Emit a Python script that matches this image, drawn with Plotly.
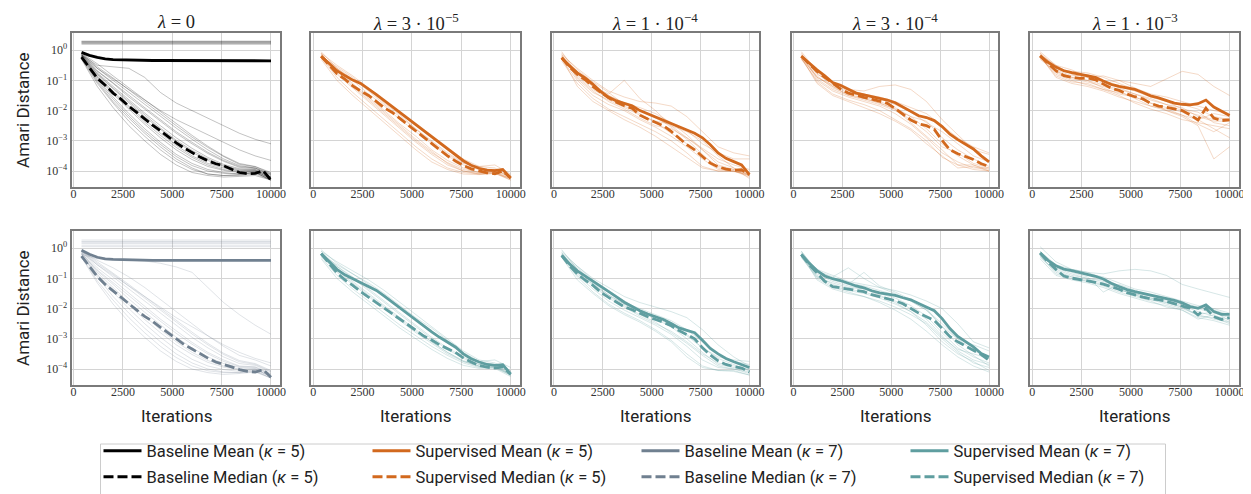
import numpy as np
import plotly.graph_objects as go

# ---------------- data (log10 of Amari distance) ----------------
X_FINE = [400, 800, 1200, 1600, 2000, 2400, 2800, 3200, 3600, 4000, 4400, 4800, 5200,
          5600, 6000, 6400, 6800, 7200, 7600, 8000, 8400, 8800, 9200, 9600, 10000]
X_COARSE = [400, 1200, 2000, 2800, 3600, 4400, 5200, 6000, 6800, 7600, 8400, 9200, 10000]

LAMBDA_TITLES = ["<i>λ</i> = 0", "<i>λ</i> = 3 · 10<sup>−5</sup>", "<i>λ</i> = 1 · 10<sup>−4</sup>",
                 "<i>λ</i> = 3 · 10<sup>−4</sup>", "<i>λ</i> = 1 · 10<sup>−3</sup>"]
Y_TICK_VALS = [1e-4, 1e-3, 1e-2, 1e-1, 1]
Y_TICK_TEXT = ["10<sup>−4</sup>", "10<sup>−3</sup>", "10<sup>−2</sup>", "10<sup>−1</sup>", "10<sup>0</sup>"]
X_TICK_VALS = [0, 2500, 5000, 7500, 10000]
X_TICK_TEXT = ["0", "2500", "5000", "7500", "10000"]

# ---- Baseline kappa = 5 (lambda = 0) ----
b5_mean = [-0.07, -0.17, -0.24, -0.29, -0.31, -0.32, -0.33, -0.33, -0.34, -0.34, -0.34, -0.34, -0.34,
           -0.34, -0.34, -0.34, -0.34, -0.34, -0.34, -0.34, -0.34, -0.34, -0.34, -0.34, -0.35]
b5_median = [-0.23, -0.6, -0.93, -1.16, -1.42, -1.62, -1.86, -2.06, -2.28, -2.48, -2.67, -2.88, -3.07,
             -3.24, -3.39, -3.54, -3.66, -3.76, -3.83, -3.94, -4.05, -4.09, -4.08, -3.99, -4.3]
b5_runs = [
    [-0.3, -1.2, -1.9, -2.5, -3.0, -3.45, -3.8, -4.05, -4.15, -4.2, -4.18, -4.15, -4.3],
    [-0.25, -1.05, -1.7, -2.25, -2.75, -3.2, -3.6, -3.9, -4.1, -4.15, -4.12, -4.05, -4.3],
    [-0.2, -0.95, -1.55, -2.1, -2.6, -3.05, -3.45, -3.75, -3.95, -4.05, -4.1, -4.05, -4.3],
    [-0.22, -0.9, -1.45, -1.95, -2.45, -2.9, -3.3, -3.62, -3.85, -3.98, -4.05, -4.02, -4.25],
    [-0.18, -0.85, -1.35, -1.85, -2.3, -2.75, -3.15, -3.5, -3.75, -3.9, -4.0, -4.0, -4.25],
    [-0.2, -0.8, -1.28, -1.75, -2.2, -2.62, -3.02, -3.38, -3.65, -3.85, -3.98, -3.98, -4.2],
    [-0.15, -0.75, -1.2, -1.65, -2.08, -2.5, -2.9, -3.25, -3.55, -3.78, -3.92, -3.95, -4.2],
    [-0.15, -0.7, -1.1, -1.55, -1.95, -2.35, -2.75, -3.1, -3.42, -3.68, -3.88, -3.92, -4.15],
    [-0.12, -0.6, -1.0, -1.4, -1.8, -2.2, -2.58, -2.95, -3.3, -3.6, -3.82, -3.9, -4.1],
    [-0.1, -0.45, -0.85, -1.25, -1.65, -2.05, -2.45, -2.82, -3.18, -3.5, -3.75, -3.85, -4.05],
    [-0.15, -0.5, -0.55, -0.6, -0.9, -1.4, -1.75, -2.0, -2.25, -2.5, -2.75, -2.95, -3.1],
    [-0.15, -0.6, -0.95, -1.3, -1.65, -2.0, -2.3, -2.55, -2.8, -3.05, -3.3, -3.5, -3.65],
    [-0.28, -1.1, -1.75, -2.35, -2.85, -3.3, -3.68, -3.95, -4.1, -4.15, -4.15, -4.1, -4.3],
    [-0.22, -1.0, -1.62, -2.18, -2.68, -3.12, -3.52, -3.82, -4.0, -4.08, -4.1, -4.05, -4.28],
    [-0.18, -0.88, -1.4, -1.9, -2.38, -2.82, -3.22, -3.55, -3.8, -3.95, -4.02, -4.0, -4.25],
    [-0.16, -0.78, -1.25, -1.7, -2.15, -2.58, -2.98, -3.32, -3.6, -3.82, -3.95, -3.96, -4.2],
    [-0.14, -0.68, -1.08, -1.5, -1.9, -2.3, -2.7, -3.05, -3.38, -3.65, -3.85, -3.9, -4.12],
    [-0.1, -0.55, -0.92, -1.32, -1.72, -2.12, -2.5, -2.88, -3.22, -3.52, -3.78, -3.86, -4.08],
]
b5_stuck = [
    [0.30, 0.30, 0.30, 0.30, 0.30, 0.30, 0.30, 0.30, 0.30, 0.30, 0.30, 0.30, 0.30],
    [0.27, 0.27, 0.27, 0.27, 0.27, 0.27, 0.27, 0.27, 0.27, 0.27, 0.27, 0.27, 0.27],
    [0.25, 0.25, 0.25, 0.25, 0.25, 0.25, 0.25, 0.25, 0.25, 0.25, 0.25, 0.25, 0.25],
    [0.22, 0.22, 0.22, 0.22, 0.22, 0.22, 0.22, 0.22, 0.22, 0.22, 0.22, 0.22, 0.22],
    [0.28, 0.28, 0.28, 0.28, 0.28, 0.28, 0.28, 0.28, 0.28, 0.28, 0.28, 0.28, 0.28],
    [0.20, 0.20, 0.20, 0.20, 0.20, 0.20, 0.20, 0.20, 0.20, 0.20, 0.20, 0.20, 0.20],
]

# ---- Baseline kappa = 7 (lambda = 0) ----
b7_mean = [-0.07, -0.2, -0.3, -0.35, -0.37, -0.38, -0.39, -0.39, -0.4, -0.4, -0.4, -0.4, -0.4,
           -0.4, -0.4, -0.4, -0.4, -0.4, -0.4, -0.4, -0.4, -0.4, -0.4, -0.4, -0.4]
b7_median = [-0.26, -0.62, -0.94, -1.2, -1.42, -1.63, -1.85, -2.05, -2.26, -2.42, -2.62, -2.81, -3.0,
             -3.19, -3.34, -3.5, -3.64, -3.77, -3.84, -3.93, -4.02, -4.08, -4.1, -4.02, -4.27]
b7_runs = [
    [-0.3, -1.15, -1.85, -2.45, -2.95, -3.4, -3.75, -4.0, -4.12, -4.18, -4.15, -4.1, -4.3],
    [-0.2, -0.95, -1.6, -2.15, -2.65, -3.1, -3.5, -3.8, -4.0, -4.1, -4.12, -4.05, -4.3],
    [-0.25, -0.9, -1.45, -2.0, -2.5, -2.95, -3.35, -3.68, -3.9, -4.02, -4.08, -4.03, -4.25],
    [-0.15, -0.8, -1.3, -1.8, -2.25, -2.7, -3.1, -3.45, -3.72, -3.9, -4.0, -4.0, -4.25],
    [-0.18, -0.75, -1.2, -1.68, -2.12, -2.55, -2.95, -3.3, -3.6, -3.82, -3.95, -3.97, -4.2],
    [-0.12, -0.65, -1.05, -1.5, -1.92, -2.35, -2.75, -3.12, -3.45, -3.7, -3.9, -3.93, -4.15],
    [-0.1, -0.55, -0.95, -1.35, -1.75, -2.15, -2.55, -2.95, -3.3, -3.6, -3.82, -3.88, -4.1],
    [-0.08, -0.45, -0.8, -1.2, -1.6, -2.0, -2.4, -2.78, -3.15, -3.48, -3.72, -3.82, -4.05],
    [-0.2, -0.35, -0.38, -0.4, -0.42, -0.5, -0.62, -0.8, -1.3, -1.8, -2.2, -2.55, -2.85],
    [-0.15, -0.55, -0.9, -1.25, -1.6, -1.95, -2.3, -2.6, -2.9, -3.2, -3.45, -3.65, -3.8],
    [-0.27, -1.08, -1.72, -2.3, -2.8, -3.25, -3.62, -3.9, -4.06, -4.12, -4.12, -4.08, -4.3],
    [-0.2, -0.86, -1.38, -1.88, -2.36, -2.8, -3.2, -3.52, -3.78, -3.94, -4.02, -4.0, -4.25],
    [-0.16, -0.72, -1.14, -1.58, -2.0, -2.42, -2.82, -3.18, -3.5, -3.75, -3.92, -3.94, -4.18],
    [-0.1, -0.5, -0.86, -1.26, -1.66, -2.06, -2.46, -2.84, -3.2, -3.52, -3.76, -3.85, -4.08],
    [-0.12, -0.4, -0.65, -0.95, -1.3, -1.7, -2.1, -2.5, -2.9, -3.25, -3.55, -3.7, -3.9],
]
b7_stuck = [
    [0.27, 0.27, 0.27, 0.27, 0.27, 0.27, 0.27, 0.27, 0.27, 0.27, 0.27, 0.27, 0.27],
    [0.22, 0.22, 0.22, 0.22, 0.22, 0.22, 0.22, 0.22, 0.22, 0.22, 0.22, 0.22, 0.22],
    [0.16, 0.16, 0.16, 0.16, 0.16, 0.16, 0.16, 0.16, 0.16, 0.16, 0.16, 0.16, 0.16],
    [0.10, 0.10, 0.10, 0.10, 0.10, 0.10, 0.10, 0.10, 0.10, 0.10, 0.10, 0.10, 0.10],
    [0.05, 0.05, 0.05, 0.05, 0.05, 0.05, 0.05, 0.05, 0.05, 0.05, 0.05, 0.05, 0.05],
    [0.20, 0.20, 0.20, 0.20, 0.20, 0.20, 0.20, 0.20, 0.20, 0.20, 0.20, 0.20, 0.20],
]

# ---- Supervised kappa = 5 ----
s5_l3e5_mean = [-0.2, -0.45, -0.68, -0.84, -0.99, -1.1, -1.28, -1.47, -1.67, -1.87, -2.07, -2.26, -2.45,
                -2.65, -2.86, -3.06, -3.28, -3.48, -3.66, -3.81, -3.91, -3.97, -3.99, -3.95, -4.23]
s5_l3e5_median = [-0.2, -0.5, -0.78, -0.96, -1.18, -1.35, -1.5, -1.7, -1.91, -2.06, -2.27, -2.47, -2.68,
                  -2.88, -3.08, -3.3, -3.5, -3.67, -3.82, -3.93, -4.0, -4.06, -4.09, -4.0, -4.23]
s5_l3e5_runs = [
    [-0.05, -0.6, -1.0, -1.45, -1.85, -2.3, -2.7, -3.1, -3.5, -3.8, -3.95, -3.95, -4.2],
    [-0.15, -0.65, -1.1, -1.55, -2.0, -2.45, -2.85, -3.3, -3.65, -3.9, -4.05, -4.05, -4.25],
    [-0.25, -0.9, -1.4, -1.85, -2.3, -2.75, -3.2, -3.6, -3.9, -4.05, -4.1, -4.05, -4.3],
    [-0.3, -1.0, -1.5, -1.95, -2.4, -2.85, -3.3, -3.7, -3.95, -4.1, -4.12, -4.08, -4.3],
    [-0.1, -0.5, -0.85, -1.25, -1.65, -2.05, -2.45, -2.85, -3.25, -3.6, -3.85, -3.9, -4.15],
    [-0.2, -0.55, -0.9, -1.3, -1.75, -2.15, -2.6, -3.0, -3.4, -3.72, -3.92, -3.95, -4.2],
    [-0.12, -0.7, -1.15, -1.6, -2.05, -2.5, -2.95, -3.35, -3.75, -4.0, -4.1, -4.08, -4.25],
    [-0.25, -0.8, -1.25, -1.7, -2.15, -2.6, -3.05, -3.45, -3.8, -4.0, -4.08, -4.02, -4.25],
    [-0.18, -0.6, -0.95, -1.35, -1.8, -2.2, -2.62, -3.05, -3.45, -3.75, -3.85, -3.8, -4.1],
    [-0.1, -0.75, -1.2, -1.65, -2.1, -2.55, -3.0, -3.4, -3.72, -3.95, -4.05, -4.0, -4.2],
]
s5_l1e4_mean = [-0.25, -0.52, -0.75, -0.92, -1.13, -1.37, -1.56, -1.68, -1.76, -1.84, -2.0, -2.11, -2.21,
                -2.31, -2.42, -2.53, -2.64, -2.75, -2.9, -3.13, -3.4, -3.58, -3.69, -3.8, -4.12]
s5_l1e4_median = [-0.25, -0.56, -0.8, -0.98, -1.21, -1.41, -1.58, -1.72, -1.84, -1.92, -2.15, -2.28, -2.39,
                  -2.5, -2.69, -2.9, -3.13, -3.3, -3.52, -3.74, -3.86, -3.94, -3.97, -3.96, -4.12]
s5_l1e4_runs = [
    [-0.05, -0.8, -1.2, -1.45, -1.0, -1.6, -2.0, -2.5, -2.9, -3.3, -3.7, -3.9, -4.15],
    [-0.2, -0.7, -1.15, -1.5, -1.75, -1.9, -2.1, -2.4, -2.8, -3.3, -3.8, -3.95, -4.1],
    [-0.3, -1.0, -1.5, -1.8, -2.0, -2.3, -2.55, -2.85, -3.2, -3.6, -3.95, -4.0, -4.2],
    [-0.15, -0.6, -1.0, -1.35, -1.55, -1.7, -1.75, -1.85, -2.2, -2.7, -3.2, -3.4, -3.5],
    [-0.35, -1.1, -1.6, -1.95, -2.2, -2.45, -2.7, -3.0, -3.4, -3.85, -4.0, -4.02, -4.1],
    [-0.25, -0.85, -1.3, -1.6, -1.85, -2.1, -2.4, -2.75, -3.1, -3.5, -3.85, -3.95, -4.05],
    [-0.1, -0.65, -1.05, -1.4, -1.8, -2.0, -2.2, -2.55, -2.95, -3.45, -3.9, -4.0, -4.15],
    [-0.2, -0.9, -1.35, -1.7, -1.95, -2.25, -2.5, -2.6, -2.9, -3.25, -3.6, -3.8, -3.95],
    [-0.3, -0.75, -1.2, -1.5, -1.75, -2.0, -2.25, -2.5, -2.7, -3.0, -3.5, -3.9, -4.25],
    [-0.15, -0.95, -1.4, -1.65, -1.9, -2.15, -2.35, -2.45, -2.65, -3.1, -3.4, -3.6, -3.6],
    [-0.25, -1.2, -1.7, -2.0, -2.3, -2.55, -2.85, -3.2, -3.55, -3.9, -4.0, -4.0, -4.15],
]
s5_l3e4_mean = [-0.2, -0.43, -0.65, -0.85, -1.07, -1.16, -1.3, -1.42, -1.48, -1.54, -1.6, -1.65, -1.74,
                -1.88, -2.03, -2.17, -2.23, -2.33, -2.53, -2.78, -2.96, -3.11, -3.27, -3.5, -3.7]
s5_l3e4_median = [-0.2, -0.46, -0.7, -0.9, -1.1, -1.28, -1.42, -1.5, -1.56, -1.62, -1.68, -1.76, -1.93,
                  -2.13, -2.31, -2.44, -2.5, -2.62, -2.99, -3.3, -3.43, -3.52, -3.62, -3.76, -3.85]
s5_l3e4_runs = [
    [-0.05, -0.7, -1.1, -1.3, -1.35, -1.2, -1.15, -1.3, -1.7, -2.3, -2.8, -3.3, -3.45],
    [-0.2, -0.9, -1.2, -1.4, -1.55, -1.7, -1.9, -2.2, -2.6, -3.1, -3.5, -3.8, -4.0],
    [-0.3, -1.0, -1.35, -1.55, -1.7, -1.85, -2.1, -2.45, -2.9, -3.4, -3.7, -3.9, -3.9],
    [-0.15, -0.8, -1.05, -1.3, -1.45, -1.6, -1.8, -2.05, -2.4, -2.7, -3.1, -3.5, -3.7],
    [-0.25, -1.05, -1.45, -1.65, -1.8, -2.0, -2.3, -2.6, -3.0, -3.55, -3.8, -3.95, -4.0],
    [-0.1, -0.75, -1.2, -1.5, -1.6, -1.75, -1.95, -2.2, -2.35, -2.9, -3.3, -3.6, -3.85],
    [-0.2, -0.95, -1.3, -1.5, -1.65, -1.8, -2.0, -2.3, -2.7, -3.2, -3.4, -3.75, -3.9],
    [-0.3, -0.85, -1.25, -1.45, -1.6, -1.75, -1.95, -2.4, -2.85, -3.3, -3.8, -3.8, -3.95],
    [-0.15, -0.9, -1.15, -1.35, -1.45, -1.55, -1.7, -1.9, -2.1, -2.5, -2.9, -3.2, -3.4],
    [-0.25, -1.1, -1.5, -1.7, -1.9, -2.1, -2.35, -2.65, -3.1, -3.5, -3.9, -3.85, -4.0],
]
s5_l1e3_mean = [-0.19, -0.4, -0.56, -0.68, -0.74, -0.79, -0.84, -0.9, -1.02, -1.13, -1.2, -1.24, -1.3,
                -1.4, -1.51, -1.58, -1.66, -1.75, -1.79, -1.81, -1.77, -1.65, -1.88, -2.03, -2.16]
s5_l1e3_median = [-0.19, -0.45, -0.68, -0.84, -0.9, -0.93, -0.92, -0.98, -1.13, -1.26, -1.33, -1.45, -1.54,
                  -1.61, -1.76, -1.85, -1.89, -1.94, -2.0, -2.14, -2.31, -1.92, -2.25, -2.33, -2.31]
s5_l1e3_runs = [
    [-0.05, -0.5, -0.8, -0.9, -0.85, -1.0, -1.1, -1.2, -0.95, -0.7, -0.8, -1.2, -1.5],
    [-0.2, -0.75, -0.95, -1.05, -1.2, -1.35, -1.6, -1.85, -2.0, -2.2, -2.5, -3.6, -3.2],
    [-0.25, -0.8, -1.0, -1.15, -1.3, -1.5, -1.75, -1.95, -2.1, -2.3, -2.4, -2.5, -2.6],
    [-0.15, -0.6, -0.7, -0.75, -0.9, -1.1, -1.3, -1.5, -1.7, -1.8, -1.95, -2.2, -2.3],
    [-0.3, -0.7, -0.9, -1.0, -1.25, -1.45, -1.55, -1.75, -1.9, -2.05, -2.3, -2.6, -2.9],
    [-0.1, -0.55, -0.75, -0.85, -1.0, -1.25, -1.45, -1.6, -1.8, -1.9, -2.2, -2.35, -2.35],
    [-0.2, -0.9, -1.1, -1.2, -1.35, -1.55, -1.7, -1.85, -1.95, -2.15, -2.3, -2.1, -2.2],
    [-0.25, -0.65, -0.85, -0.8, -1.05, -1.2, -1.35, -1.55, -1.7, -1.95, -2.05, -2.4, -2.5],
    [-0.1, -0.7, -0.9, -1.0, -1.15, -1.3, -1.45, -1.65, -1.8, -2.0, -2.15, -2.3, -2.25],
    [-0.2, -0.85, -1.05, -1.1, -1.3, -1.4, -1.55, -1.75, -2.0, -2.15, -2.45, -2.7, -2.4],
    [-0.15, -0.5, -0.65, -0.9, -1.1, -1.0, -1.25, -1.45, -1.55, -1.7, -1.85, -2.0, -2.1],
]

# ---- Supervised kappa = 7 ----
s7_l3e5_mean = [-0.18, -0.45, -0.7, -0.88, -1.01, -1.13, -1.25, -1.4, -1.59, -1.79, -1.99, -2.19, -2.39,
                -2.58, -2.77, -2.95, -3.11, -3.27, -3.5, -3.66, -3.77, -3.85, -3.88, -3.86, -4.16]
s7_l3e5_median = [-0.18, -0.52, -0.82, -1.05, -1.23, -1.44, -1.62, -1.79, -1.97, -2.16, -2.35, -2.54, -2.72,
                  -2.91, -3.04, -3.2, -3.33, -3.45, -3.63, -3.77, -3.88, -3.94, -3.97, -3.93, -4.18]
s7_l3e5_runs = [
    [-0.05, -0.5, -0.85, -1.2, -1.55, -1.95, -2.35, -2.75, -3.15, -3.5, -3.75, -3.85, -4.1],
    [-0.2, -0.6, -0.95, -1.35, -1.75, -2.15, -2.55, -2.95, -3.3, -3.6, -3.85, -3.9, -4.15],
    [-0.3, -0.9, -1.35, -1.75, -2.15, -2.55, -2.9, -3.25, -3.55, -3.8, -3.95, -3.95, -4.2],
    [-0.1, -0.45, -0.75, -1.05, -1.4, -1.8, -2.2, -2.6, -3.0, -3.4, -3.7, -3.8, -4.05],
    [-0.25, -0.8, -1.2, -1.6, -2.0, -2.4, -2.8, -3.15, -3.5, -3.75, -3.9, -3.95, -4.2],
    [-0.15, -0.7, -1.1, -1.5, -1.9, -2.3, -2.7, -3.1, -3.45, -3.75, -3.92, -3.93, -4.15],
    [-0.2, -0.55, -0.85, -1.15, -1.5, -1.9, -2.3, -2.65, -3.05, -3.45, -3.75, -3.7, -3.95],
    [-0.35, -1.0, -1.45, -1.85, -2.25, -2.65, -3.0, -3.35, -3.65, -3.88, -3.98, -3.98, -4.25],
    [-0.1, -0.6, -1.0, -1.4, -1.8, -2.2, -2.6, -3.0, -3.35, -3.65, -3.85, -3.88, -4.1],
    [-0.25, -0.75, -1.15, -1.55, -1.95, -2.35, -2.75, -3.1, -3.45, -3.72, -3.9, -3.9, -4.2],
]
s7_l1e4_mean = [-0.24, -0.52, -0.75, -0.93, -1.08, -1.27, -1.44, -1.61, -1.79, -1.93, -2.07, -2.18, -2.27,
                -2.36, -2.49, -2.64, -2.72, -2.8, -3.05, -3.32, -3.5, -3.65, -3.76, -3.86, -3.95]
s7_l1e4_median = [-0.24, -0.58, -0.85, -1.06, -1.23, -1.46, -1.63, -1.78, -1.94, -2.04, -2.16, -2.27, -2.36,
                  -2.45, -2.57, -2.73, -2.86, -3.0, -3.3, -3.54, -3.73, -3.85, -3.92, -3.97, -4.1]
s7_l1e4_runs = [
    [-0.1, -0.6, -1.05, -1.4, -1.75, -2.05, -2.25, -2.5, -2.85, -3.3, -3.65, -3.85, -4.05],
    [-0.25, -0.9, -1.35, -1.75, -2.05, -2.3, -2.55, -2.85, -3.25, -3.7, -3.95, -4.0, -4.15],
    [-0.3, -0.95, -1.45, -1.85, -2.15, -2.4, -2.7, -3.05, -3.5, -3.9, -4.05, -4.05, -4.2],
    [-0.15, -0.6, -1.0, -1.3, -1.6, -1.8, -1.95, -2.1, -2.3, -2.7, -3.2, -3.6, -3.9],
    [-0.2, -0.75, -1.15, -1.55, -1.85, -2.1, -2.35, -2.6, -3.0, -3.45, -3.85, -3.95, -4.05],
    [-0.05, -0.7, -1.2, -1.6, -1.9, -2.2, -2.45, -2.8, -3.15, -3.55, -3.9, -4.0, -4.1],
    [-0.25, -0.85, -1.25, -1.65, -1.95, -2.25, -2.5, -2.75, -3.1, -3.5, -3.8, -3.9, -4.0],
    [-0.2, -0.65, -1.1, -1.45, -1.8, -2.0, -2.2, -2.4, -2.7, -3.1, -3.5, -3.75, -3.85],
    [-0.3, -1.05, -1.5, -1.9, -2.2, -2.45, -2.75, -3.1, -3.6, -3.95, -4.05, -4.08, -4.2],
    [-0.15, -0.8, -1.2, -1.55, -1.85, -2.1, -2.3, -2.55, -2.9, -3.3, -3.6, -3.7, -3.75],
]
s7_l3e4_mean = [-0.21, -0.5, -0.74, -0.92, -1.01, -1.07, -1.16, -1.25, -1.31, -1.41, -1.48, -1.51, -1.56,
                -1.64, -1.71, -1.83, -1.94, -2.07, -2.33, -2.66, -2.92, -3.09, -3.27, -3.49, -3.6]
s7_l3e4_median = [-0.21, -0.55, -0.82, -1.1, -1.27, -1.31, -1.35, -1.4, -1.44, -1.54, -1.61, -1.68, -1.74,
                  -1.84, -1.99, -2.15, -2.27, -2.39, -2.66, -2.93, -3.1, -3.24, -3.38, -3.52, -3.71]
s7_l3e4_runs = [
    [-0.1, -0.75, -0.95, -0.65, -1.0, -1.3, -1.5, -1.75, -2.05, -2.5, -3.0, -3.4, -3.6],
    [-0.25, -0.95, -1.15, -1.3, -1.35, -1.5, -1.65, -1.9, -2.25, -2.8, -3.3, -3.6, -3.8],
    [-0.3, -1.0, -1.3, -1.45, -1.6, -1.75, -1.95, -2.2, -2.5, -3.0, -3.45, -3.8, -3.95],
    [-0.15, -0.7, -0.9, -1.1, -1.2, -1.3, -1.4, -1.55, -1.75, -2.0, -2.5, -3.1, -3.3],
    [-0.2, -0.9, -1.2, -1.35, -1.45, -1.6, -1.75, -2.0, -2.35, -2.9, -3.4, -3.7, -3.85],
    [-0.1, -0.8, -1.05, -1.2, -0.8, -1.25, -1.45, -1.7, -2.0, -2.6, -3.2, -3.55, -3.9],
    [-0.25, -0.85, -1.1, -1.25, -1.35, -1.55, -1.8, -2.1, -2.55, -3.1, -3.5, -3.75, -4.05],
    [-0.2, -1.05, -1.35, -1.5, -1.6, -1.8, -2.05, -2.35, -2.75, -3.2, -3.6, -3.9, -4.1],
    [-0.15, -0.75, -1.0, -1.15, -1.25, -1.4, -1.55, -1.75, -2.05, -2.6, -3.0, -3.2, -3.4],
    [-0.3, -0.95, -1.25, -1.4, -1.5, -1.65, -1.85, -2.1, -2.45, -2.95, -3.35, -3.5, -3.65],
]
s7_l1e3_mean = [-0.16, -0.4, -0.58, -0.69, -0.74, -0.8, -0.87, -0.93, -1.02, -1.16, -1.27, -1.37, -1.44,
                -1.5, -1.54, -1.6, -1.66, -1.73, -1.81, -1.93, -1.99, -1.88, -2.1, -2.19, -2.19]
s7_l1e3_median = [-0.16, -0.45, -0.7, -0.92, -0.99, -1.03, -1.08, -1.13, -1.19, -1.27, -1.36, -1.47, -1.55,
                  -1.62, -1.68, -1.7, -1.76, -1.84, -1.92, -1.99, -2.21, -1.99, -2.27, -2.36, -2.3]
s7_l1e3_runs = [
    [0.05, -0.45, -0.7, -0.8, -0.85, -0.75, -0.7, -0.75, -0.9, -1.2, -1.35, -1.5, -1.63],
    [-0.2, -0.65, -0.85, -1.0, -1.05, -1.35, -1.55, -1.7, -1.85, -2.0, -2.2, -2.1, -2.4],
    [-0.3, -0.75, -0.95, -1.1, -1.25, -1.45, -1.6, -1.75, -1.95, -2.05, -2.35, -2.2, -2.45],
    [-0.1, -0.55, -0.7, -0.8, -1.0, -1.25, -1.45, -1.6, -1.7, -1.85, -2.0, -2.15, -2.3],
    [-0.25, -0.85, -1.0, -1.1, -1.2, -1.4, -1.5, -1.65, -1.8, -1.95, -2.25, -2.3, -2.5],
    [-0.15, -0.6, -0.8, -0.95, -1.45, -1.2, -1.4, -1.55, -1.65, -1.8, -1.95, -2.05, -2.2],
    [-0.2, -0.7, -0.9, -1.0, -1.1, -1.3, -1.5, -1.65, -1.75, -1.9, -2.1, -2.25, -2.35],
    [-0.35, -0.9, -1.05, -1.15, -1.3, -1.5, -1.65, -1.8, -1.9, -2.05, -2.3, -2.4, -2.55],
    [-0.1, -0.6, -0.75, -0.85, -0.95, -1.15, -1.35, -1.45, -1.6, -1.75, -1.9, -2.0, -2.15],
    [-0.25, -0.8, -0.95, -1.05, -1.15, -1.35, -1.55, -1.7, -1.8, -1.95, -2.2, -2.35, -2.45],
]

# ---------------- styling ----------------
W, H = 1251, 494
COL_PX = [(63, 273), (304, 514), (546, 754), (787, 995), (1027, 1237)]
ROW_PX = [(25, 179), (223, 377)]
C_BLACK = "#000000"
C_ORANGE = "#D2691E"
C_SLATE = "#708090"
C_TEAL = "#5F9EA0"
THIN_BLACK = "rgba(0,0,0,0.24)"
THIN_ORANGE = "rgba(210,105,30,0.25)"
THIN_SLATE = "rgba(112,128,144,0.22)"
THIN_TEAL = "rgba(95,158,160,0.25)"
SERIF = "Liberation Serif, DejaVu Serif, serif"
SANS = "Roboto, Lato, DejaVu Sans, sans-serif"
DASH = "10px,4px"
LW = 2.8

fig = go.Figure()


def ax_names(n):
    return ("x" if n == 1 else f"x{n}"), ("y" if n == 1 else f"y{n}")


def add_panel(n, runs, stuck, mean, median, color, thin, mean_name, median_name, legend_rank):
    xa, ya = ax_names(n)
    for r in runs + stuck:
        fig.add_trace(go.Scatter(x=X_COARSE, y=np.power(10.0, r), mode="lines",
                                 line=dict(color=thin, width=1.0), xaxis=xa, yaxis=ya,
                                 showlegend=False, hoverinfo="skip"))
    show = legend_rank is not None
    fig.add_trace(go.Scatter(x=X_FINE, y=np.power(10.0, mean), mode="lines", name=mean_name,
                             line=dict(color=color, width=LW), xaxis=xa, yaxis=ya,
                             showlegend=show, legend="legend",
                             legendrank=legend_rank if show else 1000))
    fig.add_trace(go.Scatter(x=X_FINE, y=np.power(10.0, median), mode="lines", name=median_name,
                             line=dict(color=color, width=LW, dash=DASH), xaxis=xa, yaxis=ya,
                             showlegend=show, legend="legend2",
                             legendrank=legend_rank if show else 1000))


BM5, BD5 = "Baseline Mean (<i>κ</i> = 5)", "Baseline Median (<i>κ</i> = 5)"
SM5, SD5 = "Supervised Mean (<i>κ</i> = 5)", "Supervised Median (<i>κ</i> = 5)"
BM7, BD7 = "Baseline Mean (<i>κ</i> = 7)", "Baseline Median (<i>κ</i> = 7)"
SM7, SD7 = "Supervised Mean (<i>κ</i> = 7)", "Supervised Median (<i>κ</i> = 7)"

add_panel(1, b5_runs, b5_stuck, b5_mean, b5_median, C_BLACK, THIN_BLACK, BM5, BD5, 1)
add_panel(2, s5_l3e5_runs, [], s5_l3e5_mean, s5_l3e5_median, C_ORANGE, THIN_ORANGE, SM5, SD5, 2)
add_panel(3, s5_l1e4_runs, [], s5_l1e4_mean, s5_l1e4_median, C_ORANGE, THIN_ORANGE, SM5, SD5, None)
add_panel(4, s5_l3e4_runs, [], s5_l3e4_mean, s5_l3e4_median, C_ORANGE, THIN_ORANGE, SM5, SD5, None)
add_panel(5, s5_l1e3_runs, [], s5_l1e3_mean, s5_l1e3_median, C_ORANGE, THIN_ORANGE, SM5, SD5, None)
add_panel(6, b7_runs, b7_stuck, b7_mean, b7_median, C_SLATE, THIN_SLATE, BM7, BD7, 3)
add_panel(7, s7_l3e5_runs, [], s7_l3e5_mean, s7_l3e5_median, C_TEAL, THIN_TEAL, SM7, SD7, 4)
add_panel(8, s7_l1e4_runs, [], s7_l1e4_mean, s7_l1e4_median, C_TEAL, THIN_TEAL, SM7, SD7, None)
add_panel(9, s7_l3e4_runs, [], s7_l3e4_mean, s7_l3e4_median, C_TEAL, THIN_TEAL, SM7, SD7, None)
add_panel(10, s7_l1e3_runs, [], s7_l1e3_mean, s7_l1e3_median, C_TEAL, THIN_TEAL, SM7, SD7, None)

layout_axes = {}
annotations = []
for row in range(2):
    for col in range(5):
        n = row * 5 + col + 1
        x0, x1 = COL_PX[col]
        yt, yb = ROW_PX[row]
        xkey = "xaxis" if n == 1 else f"xaxis{n}"
        ykey = "yaxis" if n == 1 else f"yaxis{n}"
        xa, ya = ax_names(n)
        layout_axes[xkey] = dict(
            domain=[x0 / W, x1 / W], anchor=ya, range=[-100, 10480],
            tickvals=X_TICK_VALS, ticktext=X_TICK_TEXT, ticks="", ticklabelstandoff=-5,
            tickfont=dict(family=SERIF, size=12, color="#333333"),
            showgrid=True, gridcolor="#d4d4d4", gridwidth=1, zeroline=False,
            showline=True, linecolor="#7a7a7a", linewidth=2, mirror=True)
        layout_axes[ykey] = dict(
            domain=[(H - yb) / H, (H - yt) / H], anchor=xa, type="log",
            range=[-4.53, 0.57], tickvals=Y_TICK_VALS, ticktext=Y_TICK_TEXT, ticks="",
            showticklabels=(col == 0),
            tickfont=dict(family=SERIF, size=12, color="#333333"),
            showgrid=True, gridcolor="#d4d4d4", gridwidth=1, zeroline=False,
            showline=True, linecolor="#7a7a7a", linewidth=2, mirror=True)
        if row == 0:
            annotations.append(dict(text=LAMBDA_TITLES[col], x=(x0 + x1) / 2 / W, y=(H - 14) / H,
                                    xref="paper", yref="paper", showarrow=False,
                                    xanchor="center", yanchor="middle",
                                    font=dict(family=SERIF, size=18.5, color="#222222")))
        else:
            annotations.append(dict(text="Iterations", x=(x0 + x1) / 2 / W, y=(H - 408) / H,
                                    xref="paper", yref="paper", showarrow=False,
                                    xanchor="center", yanchor="middle",
                                    font=dict(family=SANS, size=17, color="#222222")))
    yt, yb = ROW_PX[row]
    annotations.append(dict(text="Amari Distance", x=14 / W, y=(H - (yt + yb) / 2) / H,
                            xref="paper", yref="paper", showarrow=False, textangle=-90,
                            xanchor="center", yanchor="middle",
                            font=dict(family=SANS, size=17, color="#222222")))

legend_common = dict(orientation="h", xanchor="left", yanchor="middle", x=90 / W,
                     bgcolor="rgba(0,0,0,0)", borderwidth=0, itemwidth=38,
                     entrywidth=216, entrywidthmode="pixels",
                     font=dict(family=SANS, size=16.5, color="#222222"))

fig.update_layout(
    width=W, height=H, margin=dict(l=0, r=0, t=0, b=0),
    paper_bgcolor="white", plot_bgcolor="white",
    annotations=annotations,
    legend=dict(y=(H - 443) / H, **legend_common),
    legend2=dict(y=(H - 469) / H, **legend_common),
    shapes=[dict(type="rect", xref="paper", yref="paper",
                 x0=92 / W, x1=1163 / W, y0=(H - 492) / H, y1=(H - 436) / H,
                 line=dict(color="#cccccc", width=1), fillcolor="rgba(0,0,0,0)")],
    **layout_axes,
)

fig.write_html("out.html")
